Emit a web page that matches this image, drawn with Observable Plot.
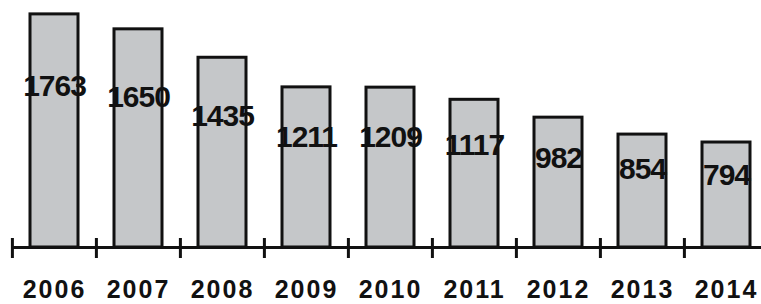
<!DOCTYPE html>
<html>
<head>
<meta charset="utf-8">
<script src="https://cdn.jsdelivr.net/npm/d3@7"></script>
<script src="https://cdn.jsdelivr.net/npm/@observablehq/plot@0.6"></script>
<style>
  html, body { margin: 0; padding: 0; background: #fff; }
  .xlab text { letter-spacing: 2px; }
  .vlab text { letter-spacing: -1px; }
</style>
</head>
<body>
<div id="chart"></div>
<script>
const years = ["2006", "2007", "2008", "2009", "2010", "2011", "2012", "2013", "2014"];
const counts = [1763, 1650, 1435, 1211, 1209, 1117, 982, 854, 794];

const data = years.map((y, i) => ({year: y, value: counts[i]}));
const step = (768.8 - 11) / years.length;

const chart = Plot.plot({
  width: 761,
  height: 304,
  marginLeft: 11,
  marginRight: 0,
  marginTop: 0,
  marginBottom: 57,
  style: {fontFamily: "'Liberation Sans', Arial, sans-serif", background: "#fff"},
  x: {type: "band", domain: years, range: [11, 768.8], paddingInner: 0.43, paddingOuter: 0.215, axis: null},
  y: {domain: [0, 1800], range: [247, 9], axis: null},
  marks: [
    Plot.barY(data, {x: "year", y: "value", fill: "#c5c7c9", stroke: "#111", strokeWidth: 3}),
    Plot.ruleY([0], {stroke: "#111", strokeWidth: 3}),
    Plot.ruleX(data, {x: "year", y1: 0, y2: 0, dx: -step / 2, insetTop: -9, insetBottom: -11, stroke: "#111", strokeWidth: 3}),
    Plot.text(data, {x: "year", y: d => d.value * 0.69, text: d => String(d.value), fontSize: 30, fontWeight: "bold", fill: "#111", lineAnchor: "middle", className: "vlab"}),
    Plot.text(data, {x: "year", y: 0, dy: 42, text: "year", fontSize: 25, fontWeight: "bold", fill: "#111", lineAnchor: "middle", className: "xlab"})
  ]
});
document.getElementById("chart").appendChild(chart);
</script>
</body>
</html>
